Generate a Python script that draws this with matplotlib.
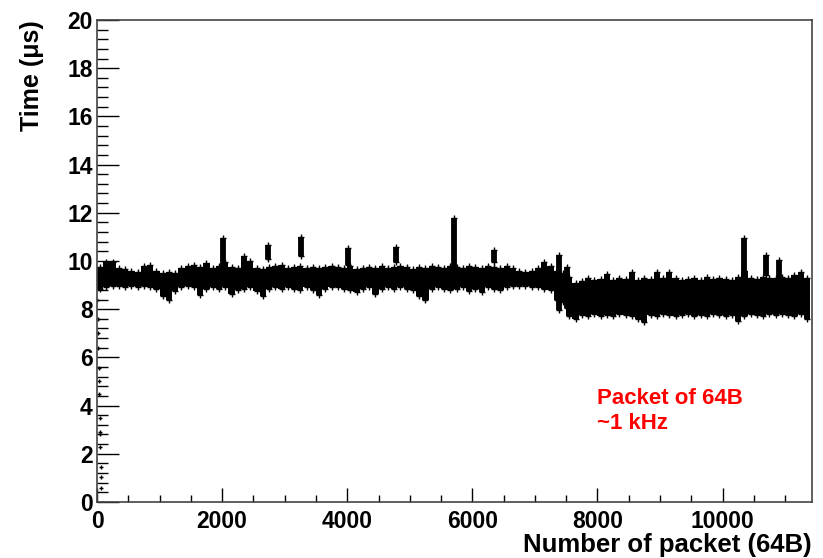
import numpy as np
import matplotlib.pyplot as plt
from matplotlib.ticker import MultipleLocator

plt.rcParams['font.family'] = ['Liberation Sans', 'DejaVu Sans']
plt.rcParams['font.weight'] = 'bold'

# band of the scatter, read per 100-packet bin (bin centres, lower / upper edge in us)
bin_x = np.arange(50, 11400, 100)
band_lo = [8.85, 8.9, 8.95, 8.95, 8.9, 8.95, 8.9, 8.95, 8.9, 8.85,
           8.55, 8.4, 8.75, 8.9, 8.95, 8.9, 8.6, 8.85, 8.9, 8.85,
           8.9, 8.65, 8.8, 8.85, 8.9, 8.75, 8.55, 8.85, 8.9, 8.85,
           8.9, 8.85, 8.8, 8.9, 8.8, 8.6, 8.85, 8.9, 8.9, 8.85,
           8.8, 8.7, 8.85, 8.9, 8.65, 8.85, 8.9, 8.85, 8.9, 8.85,
           8.8, 8.55, 8.4, 8.85, 8.9, 8.85, 8.8, 8.85, 8.9, 8.75,
           8.85, 8.7, 8.9, 8.85, 8.8, 8.9, 8.95, 8.95, 8.95, 8.9,
           8.9, 8.85, 8.8, 8.4, 8.3, 7.7, 7.6, 7.75, 7.7, 7.8,
           7.7, 7.75, 7.7, 7.8, 7.75, 7.7, 7.6, 7.45, 7.75, 7.7,
           7.8, 7.75, 7.7, 7.75, 7.8, 7.7, 7.75, 7.7, 7.8, 7.75,
           7.7, 7.75, 7.5, 7.7, 7.8, 7.75, 7.7, 7.8, 7.75, 7.8,
           7.75, 7.7, 7.8, 7.6]
band_hi = [9.75, 9.95, 9.95, 9.7, 9.65, 9.6, 9.55, 9.8, 9.85, 9.6,
           9.5, 9.55, 9.5, 9.7, 9.8, 9.85, 9.75, 9.9, 9.7, 9.8,
           9.95, 9.75, 9.7, 10.2, 10.0, 9.7, 9.65, 9.75, 9.8, 9.85,
           9.7, 9.75, 9.8, 9.7, 9.75, 9.7, 9.75, 9.8, 9.75, 9.7,
           9.8, 9.65, 9.7, 9.75, 9.7, 9.8, 9.7, 9.75, 9.8, 9.75,
           9.65, 9.75, 9.7, 9.8, 9.75, 9.7, 9.8, 9.75, 9.7, 9.8,
           9.75, 9.7, 9.8, 9.75, 9.7, 9.8, 9.7, 9.6, 9.55, 9.6,
           9.7, 9.95, 9.8, 9.6, 9.5, 9.35, 9.1, 9.15, 9.3, 9.2,
           9.25, 9.45, 9.2, 9.3, 9.25, 9.55, 9.2, 9.3, 9.25, 9.55,
           9.3, 9.55, 9.3, 9.2, 9.25, 9.3, 9.2, 9.35, 9.25, 9.3,
           9.25, 9.2, 9.35, 9.6, 9.3, 9.25, 9.35, 9.3, 9.3, 9.35,
           9.3, 9.4, 9.55, 9.3]

# short bursts above the band
spike_x = [2020, 2740, 3260, 4020, 4780, 5700, 6350, 7390, 7520, 10350, 10690, 10910]
spike_lo = [9.8, 10.1, 10.2, 9.85, 9.95, 9.5, 9.95, 7.95, 8.05, 9.6, 9.4, 9.35]
spike_hi = [10.95, 10.65, 11.0, 10.55, 10.6, 11.8, 10.45, 10.25, 9.75, 10.95, 10.25, 10.05]

# first packets (start-up), lying on the y axis
start_x = [5, 10, 15, 20, 25, 30, 35, 40, 45, 50, 55, 60, 65, 70]
start_y = [8.4, 7.6, 7.0, 6.4, 5.55, 5.0, 4.5, 3.5, 2.9, 2.8, 2.3, 1.45, 1.05, 0.6]

fig = plt.figure(figsize=(8.23, 5.58), dpi=100)
ax = fig.add_axes([0.1179, 0.1004, 0.8687, 0.8638])

lo = np.array(band_lo)
hi = np.array(band_hi)
ax.bar(bin_x, hi - lo, bottom=lo, width=100, color='black', linewidth=0)
ax.scatter(bin_x, lo, marker='+', s=16, color='black', linewidths=1)
ax.scatter(bin_x, hi, marker='+', s=16, color='black', linewidths=1)

ax.vlines(spike_x, spike_lo, spike_hi, color='black', linewidth=4.2)
ax.scatter(spike_x, spike_hi, marker='+', s=16, color='black', linewidths=1)
ax.scatter(spike_x, spike_lo, marker='+', s=16, color='black', linewidths=1)
ax.scatter(start_x, start_y, marker='+', s=10, color='black', linewidths=1)

ax.set_xlim(0, 11430)
ax.set_ylim(0, 20)
ax.xaxis.set_major_locator(MultipleLocator(2000))
ax.xaxis.set_minor_locator(MultipleLocator(500))
ax.yaxis.set_major_locator(MultipleLocator(2))
ax.yaxis.set_minor_locator(MultipleLocator(0.4))

ax.tick_params(axis='y', which='major', direction='in', length=16, width=1, labelsize=16.5, pad=3)
ax.tick_params(axis='y', which='minor', direction='in', length=8, width=1)
ax.tick_params(axis='x', which='major', direction='in', length=10, width=1, labelsize=16.5, pad=6)
ax.tick_params(axis='x', which='minor', direction='in', length=5, width=1)
for sp in ax.spines.values():
    sp.set_color('#444444')
    sp.set_linewidth(1.2)

ax.set_xlabel('Number of packet (64B)', fontsize=18.5, fontweight='bold', loc='right')
ax.xaxis.set_label_coords(1.0, -0.089)
ax.xaxis.label.set_verticalalignment('center')
ax.set_ylabel('Time (\u03bcs)', fontsize=18, fontweight='bold', loc='top')
ax.yaxis.set_label_coords(-0.091, 1.0)
ax.yaxis.label.set_verticalalignment('center')

ax.text(8000, 4.75, 'Packet of 64B\n~1 kHz', color='red', fontsize=16,
        fontweight='bold', va='top', ha='left', linespacing=1.3)

fig.savefig('out.png', dpi=100)
